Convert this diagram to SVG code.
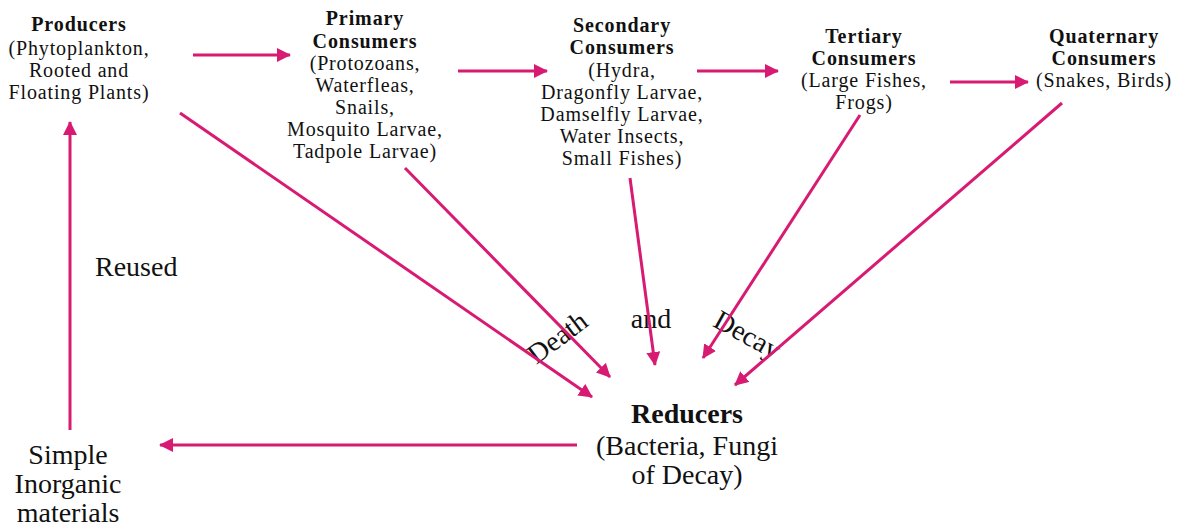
<svg xmlns="http://www.w3.org/2000/svg" width="1179" height="529" viewBox="0 0 1179 529">
<style>
text{font-family:"Liberation Serif","Times New Roman",serif;fill:#111;text-anchor:middle}
.h{font-family:"Liberation Serif","Times New Roman",serif;font-weight:bold;font-size:20px;letter-spacing:0.9px}
.b{font-family:"Liberation Serif","Times New Roman",serif;font-size:20px;letter-spacing:0.85px}
.l{font-family:"Liberation Serif","Times New Roman",serif;font-size:28px}
.lb{font-family:"Liberation Serif","Times New Roman",serif;font-size:28px;font-weight:bold}
.c line{stroke:#d81b72;stroke-width:3;marker-end:url(#ah)}
</style>
<defs>
<marker id="ah" markerUnits="userSpaceOnUse" markerWidth="16" markerHeight="16" refX="13" refY="7" orient="auto">
<path d="M0,0 L14,7 L0,14 z" fill="#d81b72"/>
</marker>
</defs>
<rect width="1179" height="529" fill="#fff"/>
<g id="producers">
<text class="h" x="79" y="31">Producers</text>
<text class="b" x="79" y="55">(Phytoplankton,</text>
<text class="b" x="79" y="77">Rooted and</text>
<text class="b" x="79" y="99">Floating Plants)</text>
</g>
<g id="primary">
<text class="h" x="365" y="25">Primary</text>
<text class="h" x="365" y="48">Consumers</text>
<text class="b" x="365" y="70">(Protozoans,</text>
<text class="b" x="365" y="92">Waterfleas,</text>
<text class="b" x="365" y="114">Snails,</text>
<text class="b" x="365" y="136">Mosquito Larvae,</text>
<text class="b" x="365" y="158">Tadpole Larvae)</text>
</g>
<g id="secondary">
<text class="h" x="622" y="32">Secondary</text>
<text class="h" x="622" y="54">Consumers</text>
<text class="b" x="622" y="77">(Hydra,</text>
<text class="b" x="622" y="99">Dragonfly Larvae,</text>
<text class="b" x="622" y="121">Damselfly Larvae,</text>
<text class="b" x="622" y="143">Water Insects,</text>
<text class="b" x="622" y="165">Small Fishes)</text>
</g>
<g id="tertiary">
<text class="h" x="864" y="43">Tertiary</text>
<text class="h" x="864" y="65">Consumers</text>
<text class="b" x="864" y="87">(Large Fishes,</text>
<text class="b" x="864" y="109">Frogs)</text>
</g>
<g id="quaternary">
<text class="h" x="1104" y="43">Quaternary</text>
<text class="h" x="1104" y="65">Consumers</text>
<text class="b" x="1104" y="87">(Snakes, Birds)</text>
</g>
<g id="reducers">
<text class="lb" x="687" y="423">Reducers</text>
<text class="l" x="687" y="455">(Bacteria, Fungi</text>
<text class="l" x="687" y="484">of Decay)</text>
</g>
<g id="inorganic">
<text class="l" x="68" y="464">Simple</text>
<text class="l" x="68" y="493">Inorganic</text>
<text class="l" x="68" y="522">materials</text>
</g>
<g id="labels">
<text class="l" x="95" y="276" style="text-anchor:start">Reused</text>
<text class="l" transform="translate(563,345) rotate(-37)">Death</text>
<text class="l" x="651" y="328">and</text>
<text class="l" transform="translate(743,343) rotate(29)">Decay</text>
</g>
<g id="connectors" class="c">
<line x1="193" y1="55" x2="290" y2="55"/>
<line x1="458" y1="71" x2="547" y2="71"/>
<line x1="697" y1="71" x2="778" y2="71"/>
<line x1="950" y1="82" x2="1028" y2="82"/>
<line x1="180" y1="113" x2="592" y2="397"/>
<line x1="405" y1="168" x2="610" y2="377"/>
<line x1="630" y1="178" x2="655" y2="365"/>
<line x1="860" y1="115" x2="703" y2="358"/>
<line x1="1062" y1="103" x2="735" y2="385"/>
<line x1="577" y1="445" x2="160" y2="445"/>
<line x1="70" y1="430" x2="70" y2="122"/>
</g>
</svg>
